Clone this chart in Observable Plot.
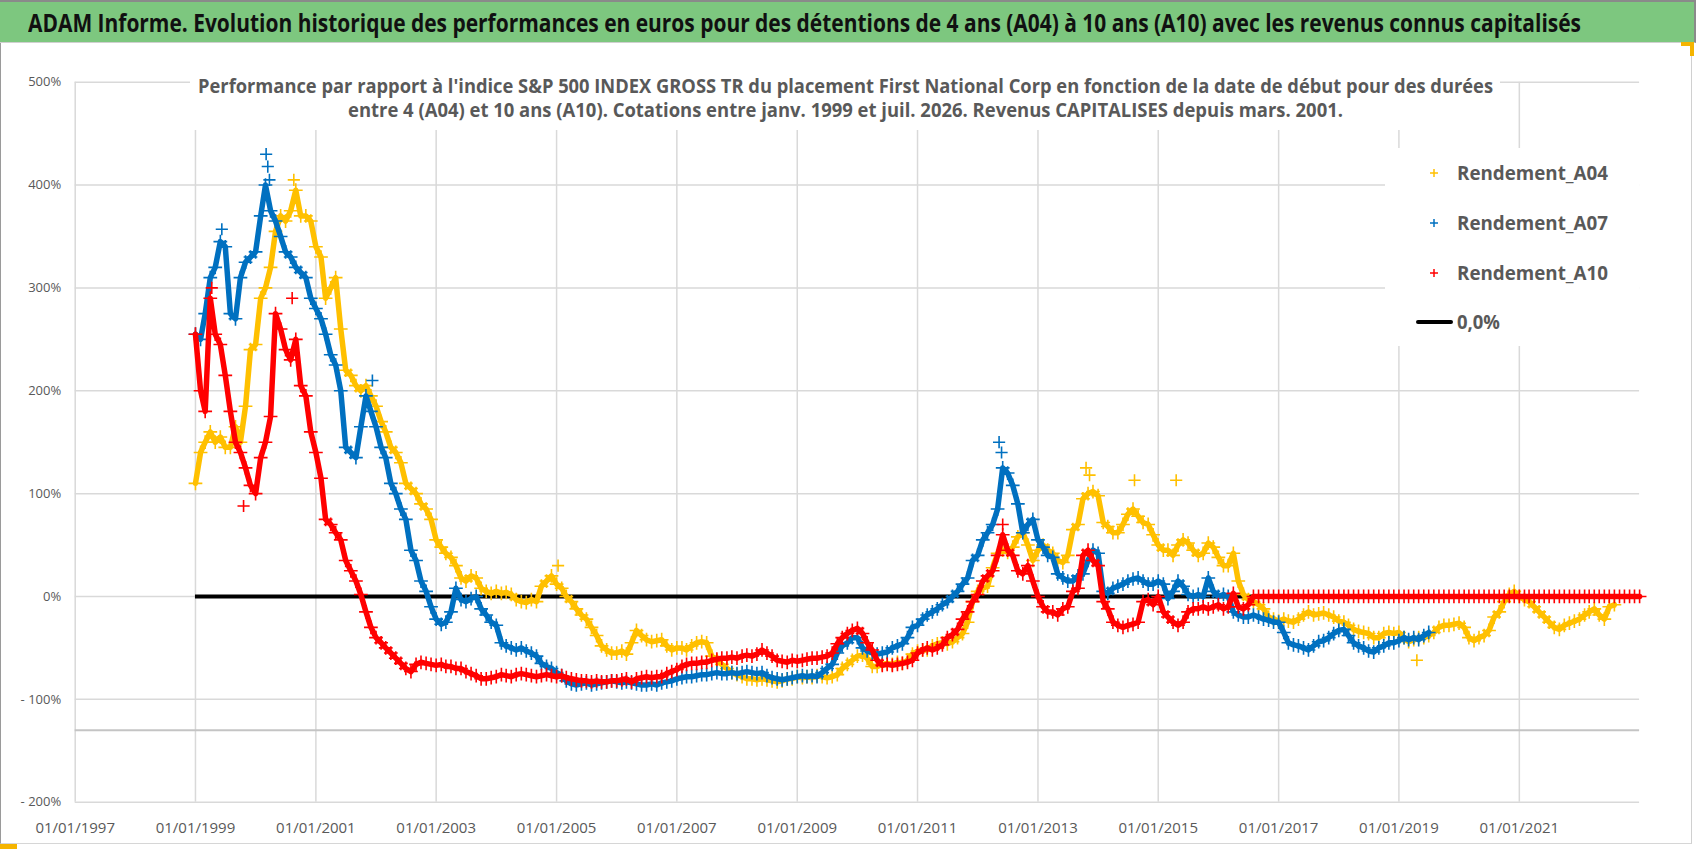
<!DOCTYPE html>
<html><head><meta charset="utf-8">
<script src="https://cdn.jsdelivr.net/npm/d3@7"></script>
<script src="https://cdn.jsdelivr.net/npm/@observablehq/plot@0.6"></script>
<style>
html,body{margin:0;padding:0;background:#fff;}
#page{position:relative;width:1698px;height:856px;overflow:hidden;font-family:'Open Sans',sans-serif;background:#fff;}
#frame{position:absolute;left:0;top:43px;width:1690px;height:800px;border-left:1.5px solid #9a9a9a;border-right:1px solid #d0d0d0;border-bottom:1.5px solid #d6d6d6;}
#banner{position:absolute;left:0;top:0;width:1694px;height:40px;background:#7dc77f;border-top:2px solid #8a8a8a;border-right:2px solid #8a8a8a;border-bottom:1px solid #d0d0d0;}
#chart{position:absolute;left:0;top:44px;}
#subbox{position:absolute;left:190px;top:66px;width:1310px;height:64px;background:#fff;}
#legbox{position:absolute;left:1385px;top:148px;width:254px;height:198px;background:#fff;}
.t{position:absolute;white-space:nowrap;transform-origin:0 50%;font-weight:700;}
.mk{position:absolute;}
.orange{position:absolute;background:#f5b400;}
</style></head>
<body><div id="page">
<div id="frame"></div>
<div id="chart"></div>
<div id="subbox"></div>
<div id="legbox"></div>
<div id="banner"></div>
<div class="orange" style="left:0;top:844px;width:17px;height:5px;"></div>
<div style="position:absolute;left:1681px;top:42px;width:9px;height:10px;border-top:4px solid #f5b400;border-right:4px solid #f5b400;"></div>
</div>
<script>
// ---------- texts ----------
const titleText = "ADAM Informe. Evolution historique des performances en euros pour des détentions de 4 ans (A04) à 10 ans (A10) avec les revenus connus capitalisés";
const subtitleLines = [
  "Performance par rapport à l'indice S&P 500 INDEX GROSS TR  du placement First National Corp en fonction de la date de début pour des durées",
  "entre 4 (A04) et 10 ans (A10). Cotations entre janv. 1999 et juil. 2026. Revenus CAPITALISES depuis mars. 2001."
];
const seriesNames = ["Rendement_A04", "Rendement_A07", "Rendement_A10"];
const zeroLabel = "0,0%";

// ---------- axes ----------
const xTickDates = ["1997-01-01","1999-01-01","2001-01-01","2003-01-01","2005-01-01","2007-01-01","2009-01-01","2011-01-01","2013-01-01","2015-01-01","2017-01-01","2019-01-01","2021-01-01"];
const xDomain = ["1997-01-01", "2023-01-01"];
const yTicks = [-200, -100, 0, 100, 200, 300, 400, 500];
const yDomain = [-200, 500];
const axisLine = [-130];
const zeroLineSpan = ["1999-01-01", "2023-01-01"];

// ---------- data (monthly readings, %) ----------
const a04Start = "1999-01-01";
const a04 = [
 110,140,150,160,150,155,145,145,165,150,185,240,
 245,290,300,320,355,370,365,375,395,370,370,365,
 340,330,290,300,310,260,220,215,205,200,205,195,
 185,170,160,145,140,130,110,105,100,90,85,75,
 55,48,42,38,30,18,15,20,18,8,5,3,
 5,3,4,2,-3,-5,-6,-3,-5,10,15,20,
 12,8,0,-5,-12,-18,-22,-30,-38,-48,-52,-55,
 -55,-53,-56,-45,-33,-38,-42,-44,-43,-42,-48,-52,
 -50,-50,-52,-48,-45,-44,-45,-58,-62,-66,-70,-74,
 -76,-78,-80,-80,-81,-80,-81,-82,-83,-82,-80,-80,
 -78,-79,-78,-79,-77,-78,-79,-78,-76,-70,-66,-62,
 -58,-57,-60,-68,-68,-66,-65,-66,-64,-65,-62,-56,
 -53,-52,-52,-48,-46,-45,-46,-44,-40,-36,-25,-5,
 5,8,10,28,42,45,43,48,58,62,50,35,
 45,50,45,42,35,33,40,65,70,95,100,102,
 98,72,68,62,62,70,80,85,78,72,70,60,
 50,45,45,40,50,55,52,45,40,42,52,48,
 38,30,30,42,15,2,-3,-5,-8,-12,-20,-22,
 -24,-22,-24,-25,-22,-18,-15,-18,-17,-16,-18,-20,
 -24,-25,-28,-32,-34,-35,-36,-40,-40,-36,-35,-36,
 -35,-40,-44,-42,-40,-40,-38,-35,-30,-28,-28,-27,
 -26,-30,-40,-43,-40,-38,-33,-20,-15,-5,2,5,
 0,-3,-5,-10,-15,-20,-25,-30,-32,-28,-26,-24,
 -22,-18,-15,-12,-18,-22,-10,-8
];
// isolated A04 readings standing out of the band
const a04SpikeDates = ["2000-08-20","2013-10-20","2013-11-10","2014-08-10","2015-04-20","2019-04-20","2005-01-10"];
const a04SpikeValues = [405, 125, 118, 113, 113, -62, 30];

const a07Start = "1999-01-01";
const a07 = [
 255,250,275,310,320,345,340,275,270,310,325,330,
 335,370,400,375,365,350,335,330,320,315,310,290,
 280,270,255,235,225,200,145,140,135,165,195,180,
 165,145,135,110,100,85,75,45,35,15,5,-10,
 -22,-27,-25,-15,8,-3,-5,-2,0,-12,-18,-25,
 -28,-45,-48,-50,-52,-50,-53,-55,-58,-65,-68,-70,
 -74,-77,-82,-85,-86,-85,-84,-86,-85,-84,-83,-82,
 -83,-84,-83,-84,-85,-86,-86,-85,-86,-84,-83,-82,
 -80,-79,-78,-78,-77,-76,-76,-75,-74,-75,-75,-74,
 -75,-74,-73,-74,-75,-74,-77,-79,-80,-81,-80,-79,
 -78,-77,-78,-77,-78,-74,-70,-66,-55,-48,-45,-40,
 -40,-50,-53,-55,-56,-55,-54,-50,-48,-46,-40,-30,
 -28,-22,-18,-15,-12,-8,-5,0,5,12,18,35,
 40,55,62,70,85,125,120,108,90,62,70,75,
 55,48,40,38,22,18,15,15,20,22,35,45,
 42,5,3,8,10,12,15,17,18,15,12,12,
 15,12,-2,5,15,10,2,0,2,0,18,5,
 0,2,0,-15,-18,-20,-20,-18,-20,-22,-23,-25,
 -25,-35,-45,-47,-48,-50,-52,-48,-44,-43,-40,-36,
 -33,-32,-38,-45,-48,-50,-53,-54,-50,-48,-45,-45,
 -43,-40,-42,-40,-42,-38,-35
];
const a07SpikeDates = ["2000-03-05","2000-03-15","2000-03-25","1999-06-10","2012-05-10","2012-05-25","2001-12-10"];
const a07SpikeValues = [430, 418, 405, 357, 150, 140, 210];

const a10Start = "1999-01-01";
const a10 = [
 255,200,180,290,255,245,215,180,150,140,125,108,
 100,135,150,175,275,260,240,230,250,205,195,160,
 140,115,75,70,62,55,35,25,15,2,-15,-30,
 -40,-45,-50,-55,-60,-65,-70,-73,-66,-64,-65,-66,
 -67,-66,-68,-68,-70,-70,-73,-75,-77,-80,-80,-79,
 -78,-76,-77,-78,-76,-75,-76,-77,-78,-77,-76,-77,
 -78,-77,-79,-80,-81,-82,-82,-83,-82,-83,-83,-82,
 -82,-81,-80,-83,-80,-79,-78,-79,-78,-78,-75,-73,
 -71,-68,-66,-65,-65,-64,-64,-62,-61,-60,-60,-59,
 -60,-58,-57,-58,-56,-52,-55,-58,-62,-63,-64,-62,
 -63,-62,-61,-60,-60,-59,-58,-55,-46,-40,-36,-33,
 -31,-36,-45,-52,-62,-67,-66,-67,-66,-65,-64,-62,
 -55,-52,-50,-52,-50,-47,-40,-37,-32,-22,-15,-5,
 2,15,20,25,40,60,45,40,25,22,30,15,
 0,-10,-15,-15,-18,-12,-10,5,8,40,45,35,
 30,-5,-12,-25,-28,-30,-28,-27,-25,-5,-3,-8,
 0,-15,-20,-25,-28,-25,-15,-12,-12,-10,-12,-10,
 -8,-12,-10,3,-10,-12,-8,
 0,0,0,0,0,
 0,0,0,0,0,0,0,0,0,0,0,0,
 0,0,0,0,0,0,0,0,0,0,0,0,
 0,0,0,0,0,0,0,0,0,0,0,0,
 0,0,0,0,0,0,0,0,0,0,0,0,
 0,0,0,0,0,0,0,0,0,0,0,0,
 0,0,0,0,0,0,0,0,0,0,0,0,
 0
];
const a10SpikeDates = ["1999-04-10","1999-10-20","2000-08-10","2012-06-01"];
const a10SpikeValues = [300, 88, 290, 70];
const colors = ["#FFC000", "#0070C0", "#FF0000"];

// ---------- build table ----------
function monthly(start, vals, name) {
  const s = new Date(start);
  return vals.map((v, i) => ({date: d3.utcMonth.offset(s, i), value: v, series: name}));
}
function points(dates, vals, name) {
  return dates.map((d, i) => ({date: new Date(d), value: vals[i], series: name}));
}
const rows = [
  ...monthly(a04Start, a04, seriesNames[0]),
  ...monthly(a07Start, a07, seriesNames[1]),
  ...monthly(a10Start, a10, seriesNames[2])
];
const spikes = [
  points(a04SpikeDates, a04SpikeValues, seriesNames[0]),
  points(a07SpikeDates, a07SpikeValues, seriesNames[1]),
  points(a10SpikeDates, a10SpikeValues, seriesNames[2])
];
const xTicks = xTickDates.map(d => new Date(d));
const fmtDate = d3.utcFormat("%d/%m/%Y");
const fmtPct = v => v < 0 ? "- " + Math.abs(v) + "%" : v + "%";
const FONT = "'Open Sans', sans-serif";

const marks = [
  Plot.gridX(xTicks, {stroke: "#d9d9d9", strokeOpacity: 1, strokeWidth: 1.5}),
  Plot.gridY(yTicks, {stroke: "#d9d9d9", strokeOpacity: 1, strokeWidth: 1.5}),
  Plot.ruleY(axisLine, {stroke: "#c4c4c4", strokeWidth: 2}),
  Plot.ruleY([0], {x1: new Date(zeroLineSpan[0]), x2: new Date(zeroLineSpan[1]), stroke: "#000", strokeWidth: 4})
];
seriesNames.forEach((name, k) => {
  const d = rows.filter(r => r.series === name);
  marks.push(Plot.line(d, {x: "date", y: "value", stroke: colors[k], strokeWidth: 5.5, curve: "linear", strokeLinejoin: "round"}));
  marks.push(Plot.dot(d, {x: "date", y: "value", symbol: "plus", r: 4.5, stroke: colors[k], strokeWidth: 1.6}));
  marks.push(Plot.dot(spikes[k], {x: "date", y: "value", symbol: "plus", r: 4, stroke: colors[k], strokeWidth: 1.6}));
});
marks.push(Plot.axisX(xTicks, {tickSize: 0, tickPadding: 20, tickFormat: fmtDate, fontSize: 15, color: "#595959", label: null}));
marks.push(Plot.axisY(yTicks, {tickSize: 0, tickPadding: 14, tickFormat: fmtPct, fontSize: 13, color: "#595959", label: null}));

const chart = Plot.plot({
  width: 1698,
  height: 812,
  marginTop: 37.7,
  marginBottom: 54.3,
  marginLeft: 74.7,
  marginRight: 58.9,
  style: {fontFamily: FONT, background: "transparent", overflow: "visible"},
  x: {type: "utc", domain: xDomain.map(d => new Date(d)), label: null},
  y: {domain: yDomain, label: null},
  marks
});
document.getElementById("chart").appendChild(chart);

// ---------- text placement ----------
const page = document.getElementById("page");
function place(text, {left, cx, cy, w, size, color}) {
  const s = document.createElement("span");
  s.className = "t";
  s.textContent = text;
  s.style.fontSize = size + "px";
  s.style.lineHeight = (size * 1.4) + "px";
  s.style.color = color;
  s.style.top = (cy - size * 0.7) + "px";
  page.appendChild(s);
  const mw = s.getBoundingClientRect().width;
  const x0 = cx !== undefined ? cx - w / 2 : left;
  s.style.left = x0 + "px";
  s.style.transform = `scaleX(${w / mw})`;
  return s;
}
place(titleText, {cx: 804.5, cy: 22, w: 1553, size: 25, color: "#111"});
place(subtitleLines[0], {cx: 845.5, cy: 86.5, w: 1295, size: 19, color: "#595959"});
place(subtitleLines[1], {cx: 845.5, cy: 110, w: 995, size: 19, color: "#595959"});

const legendRows = [173, 223, 273];
seriesNames.forEach((name, k) => {
  place(name, {left: 1457, cy: legendRows[k], w: 151, size: 20, color: "#595959"});
  const m = document.createElementNS("http://www.w3.org/2000/svg", "svg");
  m.setAttribute("width", 10); m.setAttribute("height", 10);
  m.setAttribute("class", "mk");
  m.style.left = "1429px"; m.style.top = (legendRows[k] - 5) + "px";
  m.innerHTML = `<path d="M1,5H9M5,1V9" stroke="${colors[k]}" stroke-width="1.5"/>`;
  page.appendChild(m);
});
place(zeroLabel, {left: 1457, cy: 322, w: 43, size: 20, color: "#595959"});
const zl = document.createElement("div");
zl.style.cssText = "position:absolute;left:1416px;top:320px;width:37px;height:4px;background:#000;border-radius:2px;";
page.appendChild(zl);
</script>
</body></html>
